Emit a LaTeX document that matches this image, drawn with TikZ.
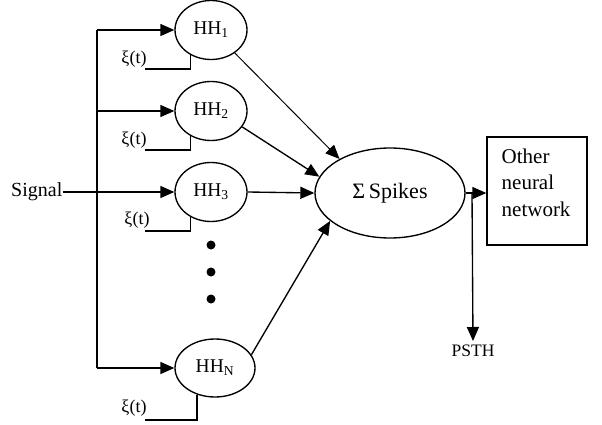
\documentclass[tikz,border=0pt]{standalone}
\usepackage{fontspec}
\setmainfont{Liberation Serif}
\usetikzlibrary{arrows.meta,shapes.geometric}
\begin{document}
\begin{tikzpicture}[x=1pt,y=1pt,
  line width=1.35pt,
  arr/.style={-{Triangle[length=14pt,width=12pt]}},
  hh/.style={ellipse,draw,inner sep=0pt,minimum width=72pt,minimum height=59pt,font=\fontsize{19.5}{22}\selectfont},
  xilab/.style={inner sep=0pt,font=\fontsize{18}{20}\selectfont},
  dot/.style={circle,fill=black,inner sep=0pt,minimum size=9pt}]
\useasboundingbox (0,0) rectangle (602,-425);
% nodes
\node[hh] (HH1) at (211,-30) {HH\textsubscript{1}};
\node[hh] (HH2) at (211,-111) {HH\textsubscript{2}};
\node[hh] (HH3) at (211,-192) {HH\textsubscript{3}};
\node[hh,minimum width=80pt,minimum height=58pt] (HHN) at (215,-368) {HH\textsubscript{N}};
\node[ellipse,draw,inner sep=0pt,minimum width=150pt,minimum height=90pt,font=\fontsize{22}{24}\selectfont] (S) at (390,-193) {Σ\,Spikes};
\node[draw,inner sep=0pt,minimum width=100pt,minimum height=108pt] (box) at (537,-191) {};
\node[anchor=north west,align=left,inner sep=0pt,font=\fontsize{21}{26.5}\selectfont] (boxtxt) at (501,-148) {Other\\neural\\network};
\node[anchor=east,inner sep=0pt,font=\fontsize{20}{22}\selectfont] (sig) at (63,-192) {Signal};
\node[anchor=north,inner sep=3pt,font=\fontsize{17.5}{20}\selectfont] (psth) at (473,-341) {PSTH};
\node[xilab] (xi1) at (134,-59) {ξ(t)};
\node[xilab] (xi2) at (134,-140) {ξ(t)};
\node[xilab] (xi3) at (137,-220) {ξ(t)};
\node[xilab] (xiN) at (134,-408) {ξ(t)};
\node[dot] (d1) at (211,-245) {};
\node[dot] (d2) at (211,-272) {};
\node[dot] (d3) at (211,-299) {};
% bus
\coordinate (b1) at (97,-30);
\coordinate (b2) at (97,-111);
\coordinate (b3) at (97,-192);
\coordinate (bN) at (97,-368);
\draw (b1) -- (bN);
\draw[arr] (b1) -- (HH1.west);
\draw[arr] (b2) -- (HH2.west);
\draw[arr] (sig.east) -- (HH3.west);
\draw[arr] (bN) -- (HHN.west);
% noise inputs
\coordinate (n1) at (145,-69);
\coordinate (n2) at (145,-150);
\coordinate (n3) at (145,-231);
\coordinate (nN) at (145,-420);
\draw (n1) -| (HH1.231);
\draw (n2) -| (HH2.231);
\draw (n3) -| (HH3.231);
\draw (nN) -| (HHN.236);
% to sum
\draw[arr,line width=1pt] (HH1.-44) -- (S.146);
\draw[arr] (HH2.-27) -- (S.167);
\draw[arr] (HH3.east) -- (S.west);
\draw[arr] (HHN.20) -- (S.205);
% output
\coordinate (split) at (472,-193);
\draw[arr] (S.east) -- (S.east -| box.west);
\draw[arr] (split) -- (psth.north);
\end{tikzpicture}
\end{document}
